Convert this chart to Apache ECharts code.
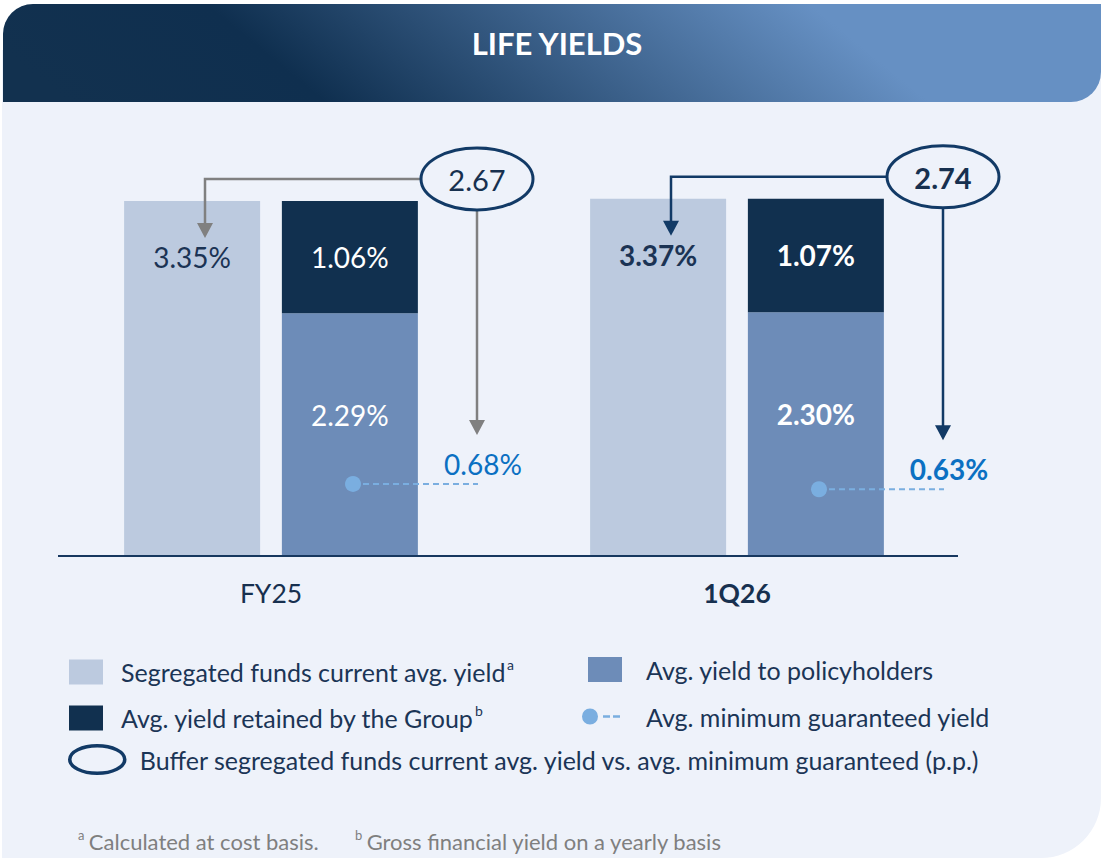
<!DOCTYPE html>
<html><head><meta charset="utf-8">
<script src="https://cdn.jsdelivr.net/npm/echarts@6/dist/echarts.min.js"></script>
<style>html,body{margin:0;padding:0;background:#fff}#c{width:1101px;height:861px}</style>
</head><body><div id="c"></div>
<script>
// ---- data ----
const categories = ['FY25', '1Q26'];
const segregatedYield = [3.35, 3.37];
const policyholderYield = [2.29, 2.30];
const retainedYield = [1.06, 1.07];
const minGuaranteedYield = [0.68, 0.63];
const bufferPP = [2.67, 2.74];

const NAME_SEG = 'Segregated funds current avg. yield';
const NAME_POL = 'Avg. yield to policyholders';
const NAME_RET = 'Avg. yield retained by the Group';
const NAME_MIN = 'Avg. minimum guaranteed yield';
const NAME_BUF = 'Buffer segregated funds current avg. yield vs. avg. minimum guaranteed (p.p.)';
const SUP = {}; SUP[NAME_SEG] = 'a'; SUP[NAME_RET] = 'b';

const FONT = 'Lato';
const NAVY = '#17304f';
const LAST = categories.length - 1;

const chart = echarts.init(document.getElementById('c'), null, {renderer: 'svg'});

const pct = v => v.toFixed(2) + '%';
const boldIf = (i, s) => (i === LAST ? '{b|' + s + '}' : '{n|' + s + '}');
const richLbl = (color, size) => ({
  n: {color: color, fontSize: size, fontFamily: FONT, fontWeight: 'normal'},
  b: {color: color, fontSize: size, fontFamily: FONT, fontWeight: 'bold'}
});

const legendText = pad => ({
  color: '#1b3556', fontSize: 25, fontFamily: FONT, padding: [0, 0, 0, pad],
  rich: {
    t: {color: '#1b3556', fontSize: 25, fontFamily: FONT, lineHeight: 30},
    s: {color: '#1b3556', fontSize: 14, fontFamily: FONT, verticalAlign: 'top', lineHeight: 30, padding: [0, 0, 10, 1]}
  }
});
const legendFmt = name => SUP[name] ? '{t|' + name + '}{s|' + SUP[name] + '}' : '{t|' + name + '}';

const footStyle = {rich: {
  t: {color: '#7f7f7f', fontSize: 22, fontFamily: FONT, fontWeight: 'normal', lineHeight: 26},
  s: {color: '#7f7f7f', fontSize: 13, fontFamily: FONT, fontWeight: 'normal', verticalAlign: 'top', lineHeight: 26}
}};

const option = {
  backgroundColor: '#ffffff',
  animation: false,
  textStyle: {fontFamily: FONT},
  graphic: [
    {type: 'rect', z: -5, shape: {x: 2, y: 50, width: 1099, height: 808, r: [0, 0, 60, 0]},
     style: {fill: '#eef2fa'}},
    {type: 'rect', z: -4, shape: {x: 3, y: 4, width: 1098, height: 98, r: [30, 0, 30, 0]},
     style: {fill: {type: 'linear', global: true, x: 164, y: 182, x2: 510, y2: -241,
       colorStops: [{offset: 0, color: '#12314f'}, {offset: 0.3, color: '#0f2f4f'}, {offset: 1, color: '#6690c3'}]}}},
    {type: 'line', z: 10, shape: {x1: 58, y1: 556, x2: 958, y2: 556}, style: {stroke: '#17385f', lineWidth: 2}}
  ],
  title: [
    {text: 'LIFE YIELDS', left: 557, top: 27, textAlign: 'center', padding: 0,
     textStyle: {color: '#ffffff', fontSize: 31, fontWeight: 'bold', fontFamily: FONT}},
    {text: '{s|a} {t|Calculated at cost basis.}', left: 78, top: 828, padding: 0, textStyle: footStyle},
    {text: '{s|b} {t|Gross financial yield on a yearly basis}', left: 355, top: 828, padding: 0, textStyle: footStyle}
  ],
  legend: [
    {data: [NAME_SEG], left: 69, top: 657, padding: 0, itemWidth: 34, itemHeight: 25, icon: 'rect',
     formatter: legendFmt, textStyle: legendText(13)},
    {data: [NAME_POL], left: 588, top: 657, padding: 0, itemWidth: 34, itemHeight: 25, icon: 'rect',
     formatter: legendFmt, textStyle: legendText(19)},
    {data: [NAME_RET], left: 69, top: 703, padding: 0, itemWidth: 34, itemHeight: 25, icon: 'rect',
     formatter: legendFmt, textStyle: legendText(13)},
    {data: [NAME_MIN], left: 582, top: 704, padding: 0, itemWidth: 38, itemHeight: 16,
     icon: 'path://M0,8a8,8 0 1,0 16,0a8,8 0 1,0 -16,0zM21,6.8h7v2.4h-7zM31,6.8h7v2.4h-7z',
     formatter: legendFmt, textStyle: legendText(21)},
    {data: [NAME_BUF], left: 68, top: 744, padding: 0, itemWidth: 55, itemHeight: 31,
     icon: 'path://M0,50A100,50,0,1,1,200,50A100,50,0,1,1,0,50Z',
     itemStyle: {color: 'rgba(0,0,0,0)', borderColor: '#123a66', borderWidth: 3.5},
     formatter: legendFmt, textStyle: legendText(10)}
  ],
  grid: {left: 38, right: 131, top: 132, bottom: 305},
  xAxis: {
    type: 'category', data: categories,
    axisLine: {show: false}, axisTick: {show: false},
    axisLabel: {margin: 23, formatter: (v, i) => boldIf(i, v), rich: richLbl(NAVY, 26.5)}
  },
  yAxis: {type: 'value', min: 0, max: 4, show: false, splitLine: {show: false}},
  series: [
    {name: NAME_SEG, type: 'bar', data: segregatedYield, barWidth: 136, barGap: '16%',
     itemStyle: {color: '#bccadf'},
     label: {show: true, position: 'insideTop', distance: 42,
       formatter: p => boldIf(p.dataIndex, pct(p.value)), rich: richLbl('#1b3354', 28)}},
    {name: NAME_POL, type: 'bar', stack: 'split', data: policyholderYield, barWidth: 136,
     itemStyle: {color: '#6d8cb8'},
     label: {show: true, position: 'inside', offset: [0, -20],
       formatter: p => boldIf(p.dataIndex, pct(p.value)), rich: richLbl('#ffffff', 28)}},
    {name: NAME_RET, type: 'bar', stack: 'split', data: retainedYield, barWidth: 136,
     itemStyle: {color: '#11304f'},
     label: {show: true, position: 'inside',
       formatter: p => boldIf(p.dataIndex, pct(p.value)), rich: richLbl('#ffffff', 28)}},
    {name: NAME_MIN, type: 'custom', z: 5,
     itemStyle: {color: '#7aaee0'},
     data: minGuaranteedYield.map((v, i) => [i, v]),
     encode: {x: 0, y: 1},
     renderItem: (params, api) => {
       const i = api.value(0), v = api.value(1);
       const p = api.coord([i, v]);
       const cur = params.dataIndex === LAST;
       const dotX = p[0] + 82, endX = p[0] + 207;
       return {type: 'group', children: [
         {type: 'line', shape: {x1: dotX, y1: p[1], x2: endX, y2: p[1]},
          style: {stroke: '#7aaee0', lineWidth: 2, lineDash: [6, 4]}},
         {type: 'circle', shape: {cx: dotX, cy: p[1], r: 8}, style: {fill: '#7aaee0'}},
         {type: 'text', x: p[0] + 212, y: p[1] - 20,
          style: {text: pct(v), fill: '#0b70c2', fontSize: 28, fontFamily: FONT,
                  fontWeight: cur ? 'bold' : 'normal', align: 'center', verticalAlign: 'middle'}}
       ]};
     }},
    {name: NAME_BUF, type: 'custom', z: 6,
     itemStyle: {color: '#123a66'},
     data: bufferPP.map((b, i) => [i, segregatedYield[i], minGuaranteedYield[i], b]),
     encode: {x: 0, y: 1},
     renderItem: (params, api) => {
       const i = api.value(0);
       const top = api.coord([i, api.value(1)]);
       const dot = api.coord([i, api.value(2)]);
       const buf = api.value(3);
       const cur = params.dataIndex === LAST;
       const col = cur ? '#123a66' : '#808080';
       const cx = top[0];
       const lineY = top[1] - 22;
       const lx = cx - 66, ex = cx + 206;
       const rx = 56, ry = 31;
       const tip1 = top[1] + 37, tip2 = dot[1] - 49;
       return {type: 'group', children: [
         {type: 'polyline', shape: {points: [[ex - rx, lineY], [lx, lineY], [lx, tip1 - 13]]},
          style: {stroke: col, lineWidth: 2.5, fill: null}},
         {type: 'polygon', shape: {points: [[lx - 8, tip1 - 15], [lx + 8, tip1 - 15], [lx, tip1]]},
          style: {fill: col}},
         {type: 'line', shape: {x1: ex, y1: lineY + ry, x2: ex, y2: tip2 - 13},
          style: {stroke: col, lineWidth: 2.5}},
         {type: 'polygon', shape: {points: [[ex - 8, tip2 - 15], [ex + 8, tip2 - 15], [ex, tip2]]},
          style: {fill: col}},
         {type: 'ellipse', shape: {cx: ex, cy: lineY, rx: rx, ry: ry},
          style: {fill: '#eef2fa', stroke: '#123a66', lineWidth: 3}},
         {type: 'text', x: ex, y: lineY + 1,
          style: {text: buf.toFixed(2), fill: NAVY, fontSize: 29, fontFamily: FONT,
                  fontWeight: cur ? 'bold' : 'normal', align: 'center', verticalAlign: 'middle'}}
       ]};
     }}
  ]
};
chart.setOption(option);
</script>
</body></html>
